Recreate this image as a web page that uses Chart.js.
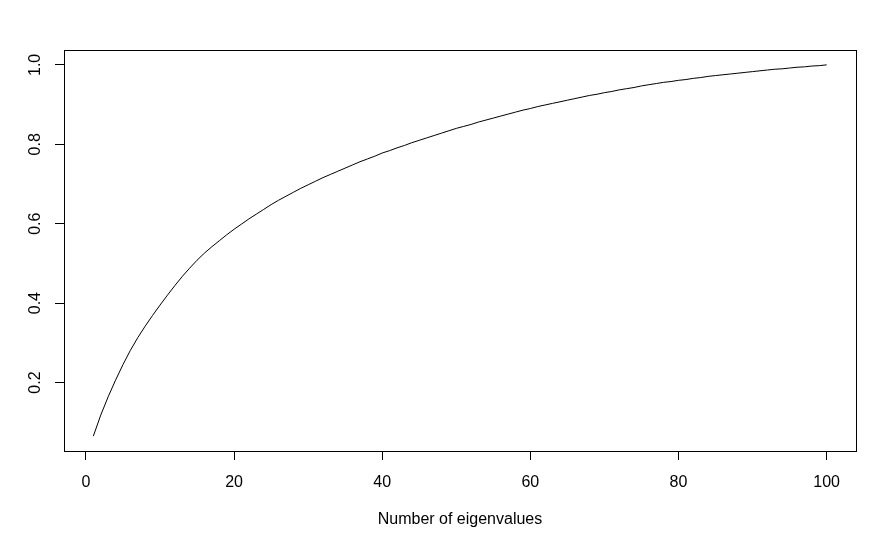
<!DOCTYPE html>
<html>
<head>
<meta charset="utf-8">
<script src="https://cdn.jsdelivr.net/npm/chart.js@4"></script>
<style>
  html, body { margin: 0; padding: 0; background: #fff; }
  #wrap { width: 881px; height: 537px; }
</style>
</head>
<body>
<div id="wrap"><canvas id="graph"></canvas></div>
<script>
// cumulative share of the eigenvalues
const counts = [];
for (let i = 1; i <= 100; i++) counts.push(i);
const cumShare = [
  0.065, 0.118, 0.164, 0.206, 0.245, 0.281, 0.313, 0.342, 0.369, 0.395,
  0.420, 0.444, 0.467, 0.488, 0.508, 0.526, 0.542, 0.557, 0.572, 0.586,
  0.599, 0.612, 0.624, 0.636, 0.648, 0.659, 0.669, 0.679, 0.689, 0.698,
  0.707, 0.716, 0.724, 0.732, 0.740, 0.748, 0.756, 0.763, 0.770, 0.778,
  0.784, 0.791, 0.797, 0.804, 0.810, 0.816, 0.822, 0.828, 0.834, 0.840,
  0.845, 0.850, 0.856, 0.861, 0.866, 0.871, 0.876, 0.881, 0.886, 0.890,
  0.895, 0.899, 0.903, 0.907, 0.911, 0.915, 0.919, 0.923, 0.926, 0.930,
  0.933, 0.937, 0.940, 0.943, 0.947, 0.950, 0.953, 0.956, 0.958, 0.961,
  0.963, 0.966, 0.968, 0.971, 0.973, 0.975, 0.977, 0.979, 0.981, 0.983,
  0.985, 0.987, 0.989, 0.990, 0.992, 0.994, 0.995, 0.997, 0.998, 1.000
];
const xTicks = [0, 20, 40, 60, 80, 100];
const yTicks = [0.2, 0.4, 0.6, 0.8, 1.0];
const xLabel = "Number of eigenvalues";

// R pads the data range by 4% on each side
const xMin = 1 - 0.04 * 99, xMax = 100 + 0.04 * 99;
const yLo = Math.min(...cumShare), yHi = Math.max(...cumShare);
const yMin = yLo - 0.04 * (yHi - yLo), yMax = yHi + 0.04 * (yHi - yLo);

const font = { family: "'Liberation Sans', Arial, sans-serif", size: 16 };

// frame around the plot region
const boxPlugin = {
  id: "box",
  afterDraw(chart) {
    const a = chart.chartArea;
    const ctx = chart.ctx;
    ctx.save();
    ctx.strokeStyle = "#000";
    ctx.lineWidth = 1;
    ctx.strokeRect(Math.round(a.left) + 0.5, Math.round(a.top) + 0.5,
      Math.round(a.right - a.left), Math.round(a.bottom - a.top));
    ctx.restore();
  }
};

const ctx = document.getElementById("graph").getContext("2d");
new Chart(ctx, {
  type: "line",
  data: {
    datasets: [{
      data: counts.map((c, i) => ({ x: c, y: cumShare[i] })),
      borderColor: "#000",
      borderWidth: 1,
      pointRadius: 0,
      fill: false,
      tension: 0
    }]
  },
  options: {
    responsive: true,
    maintainAspectRatio: false,
    animation: false,
    layout: { padding: { left: 0, right: 25, top: 50, bottom: 0 } },
    plugins: { legend: { display: false }, tooltip: { enabled: false } },
    scales: {
      x: {
        type: "linear",
        min: xMin,
        max: xMax,
        afterBuildTicks: (s) => { s.ticks = xTicks.map(v => ({ value: v })); },
        afterFit: (s) => { s.height = 86; },
        grid: { drawOnChartArea: false, drawTicks: true, tickLength: 9, color: "#000" },
        border: { display: false },
        ticks: { color: "#000", font, padding: 13, maxRotation: 0, callback: (v) => String(v) },
        title: { display: true, text: xLabel, color: "#000", font, padding: { top: 0, bottom: 8 } }
      },
      y: {
        type: "linear",
        min: yMin,
        max: yMax,
        afterBuildTicks: (s) => { s.ticks = yTicks.map(v => ({ value: v })); },
        afterFit: (s) => { s.width = 64; },
        grid: { drawOnChartArea: false, drawTicks: true, tickLength: 9, color: "#000" },
        border: { display: false },
        ticks: { color: "#000", font, padding: 8, minRotation: 90, maxRotation: 90,
          crossAlign: "center", callback: (v) => v.toFixed(1) }
      }
    }
  },
  plugins: [boxPlugin]
});
</script>
</body>
</html>
